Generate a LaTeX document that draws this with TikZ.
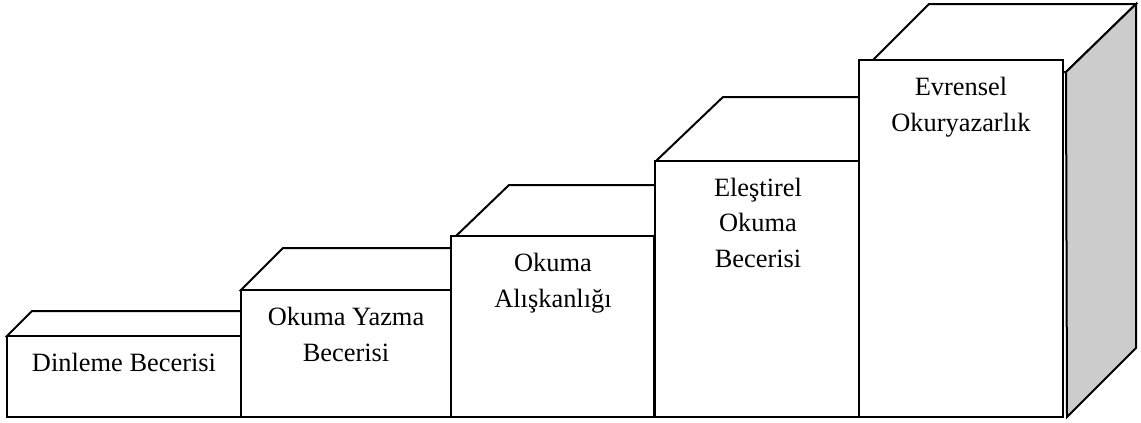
\documentclass[tikz,border=0pt]{standalone}
\usepackage{fontspec}
\setmainfont{Liberation Serif}
\usepackage{tikz}
\usetikzlibrary{positioning}

\tikzset{
  face/.style={draw, fill=white, line width=1pt, line join=miter},
  sideface/.style={draw, fill=black!20, line width=1pt},
  boxtext/.style={anchor=base, align=center, inner sep=0pt,
    font=\fontsize{13.2}{17.6}\selectfont}
}

\begin{document}
\begin{tikzpicture}[x=0.5pt, y=-0.5pt]
    \useasboundingbox (0,0) rectangle (1141,423);

    % Boxes
    \draw[face] (7,336) -- (32,311) -- (266,311) -- (241,336) -- cycle;
    \draw[face] (7,336) rectangle (241,417);

    \draw[face] (241,290) -- (283,248) -- (493,248) -- (451,290) -- cycle;
    \draw[face] (241,290) rectangle (451,417);

    \draw[face] (456,236) -- (509,185) -- (706,185) -- (654,236) -- cycle;
    \draw[face] (451,236) rectangle (654,417);

    \draw[face] (656,161) -- (723,97) -- (925,97) -- (859,161) -- cycle;
    \draw[face] (655,161) rectangle (859,417);

    \draw[face] (861,72) -- (929,4) -- (1136,4) -- (1066,72) -- cycle;
    \draw[sideface] (1066,72) -- (1136,4) -- (1136,348) -- (1067,417) -- cycle;
    \draw[face] (859,60) rectangle (1063,417);

    % Labels (anchored at the baseline of the last line)
    \node[boxtext] (dinleme) at (124,371) {Dinleme Becerisi};
    \node[boxtext] (okyaz) at (346,361) {Okuma Yazma\\Becerisi};
    \node[boxtext] (aliskanlik) at (553,307) {Okuma\\Alışkanlığı};
    \node[boxtext] (elestirel) at (758,267) {Eleştirel\\Okuma\\Becerisi};
    \node[boxtext] (evrensel) at (961,131) {Evrensel\\Okuryazarlık};
\end{tikzpicture}
\end{document}
